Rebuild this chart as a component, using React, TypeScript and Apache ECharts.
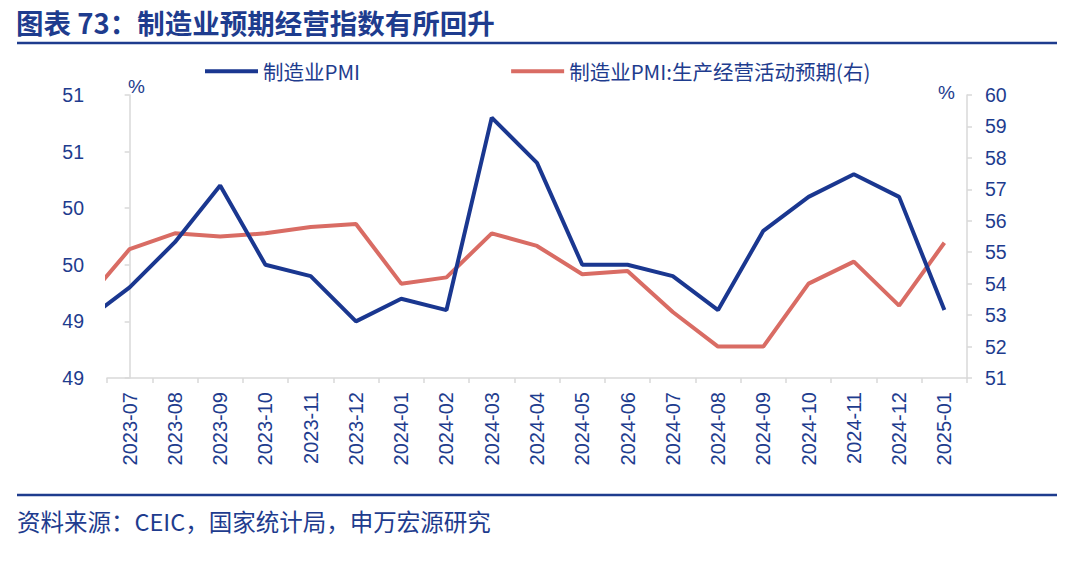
import React, { useEffect, useRef } from "react";
import * as echarts from "echarts";

// Months including the clipped lead-in month (2023-06)
const months = [
  "2023-06", "2023-07", "2023-08", "2023-09", "2023-10", "2023-11", "2023-12",
  "2024-01", "2024-02", "2024-03", "2024-04", "2024-05", "2024-06", "2024-07",
  "2024-08", "2024-09", "2024-10", "2024-11", "2024-12", "2025-01",
];
const categories = months.slice(1);

const pmi = [
  49.0, 49.3, 49.7, 50.2, 49.5, 49.4, 49.0,
  49.2, 49.1, 50.8, 50.4, 49.5, 49.5, 49.4,
  49.1, 49.8, 50.1, 50.3, 50.1, 49.1,
];
const expectation = [
  53.4, 55.1, 55.6, 55.5, 55.6, 55.8, 55.9,
  54.0, 54.2, 55.6, 55.2, 54.3, 54.4, 53.1,
  52.0, 52.0, 54.0, 54.7, 53.3, 55.3,
];

const seriesNames = ["制造业PMI", "制造业PMI:生产经营活动预期(右)"];
const titleText = "图表 73：制造业预期经营指数有所回升";
const sourceText = "资料来源：CEIC，国家统计局，申万宏源研究";

const NAVY = "#1e3c8e";
const BLUE = "#1a3790";
const RED = "#d96c64";
const AXIS_GRAY = "#d9d9d9";
const CJK = "'Noto Sans CJK SC', 'Noto Sans', sans-serif";
const NUM = "'Liberation Sans', Arial, sans-serif";

export default function App() {
  const ref = useRef<HTMLDivElement>(null);

  useEffect(() => {
    if (!ref.current) return;
    const chart = echarts.init(ref.current, undefined, { renderer: "svg" });
    const toPairs = (arr: number[]) => arr.map((v, i) => [i - 1, v]);

    chart.setOption({
      animation: false,
      backgroundColor: "#ffffff",
      grid: { left: 107, right: 113, top: 95, bottom: 190, containLabel: false },
      legend: {
        left: 200,
        top: 56,
        itemWidth: 53,
        itemHeight: 4,
        itemGap: 151,
        icon: "rect",
        textStyle: { color: NAVY, fontSize: 20.5, fontFamily: CJK },
        data: seriesNames,
      },
      xAxis: [
        {
          type: "category",
          data: categories,
          boundaryGap: true,
          axisLine: { show: true, lineStyle: { color: AXIS_GRAY, width: 1.5 } },
          axisTick: { show: true, length: 5, lineStyle: { color: AXIS_GRAY, width: 1.5 } },
          axisLabel: {
            rotate: 90,
            margin: 14,
            color: NAVY,
            fontSize: 20,
            fontFamily: NUM,
            interval: 0,
          },
          splitLine: { show: false },
        },
        {
          type: "value",
          min: -0.5,
          max: 18.5,
          show: false,
          splitLine: { show: false },
        },
      ],
      yAxis: [
        {
          type: "value",
          min: 48.5,
          max: 51,
          interval: 0.5,
          axisLine: { show: true, lineStyle: { color: AXIS_GRAY, width: 1.5 } },
          axisTick: { show: true, length: 5, lineStyle: { color: AXIS_GRAY, width: 1.5 } },
          axisLabel: {
            margin: 23,
            color: NAVY,
            fontSize: 19.5,
            fontFamily: NUM,
            formatter: (v: number) => String(Math.round(v)),
          },
          splitLine: { show: false },
        },
        {
          type: "value",
          min: 51,
          max: 60,
          interval: 1,
          position: "right",
          axisLine: { show: true, lineStyle: { color: AXIS_GRAY, width: 1.5 } },
          axisTick: { show: true, length: 5, lineStyle: { color: AXIS_GRAY, width: 1.5 } },
          axisLabel: {
            margin: 18,
            color: NAVY,
            fontSize: 19.5,
            fontFamily: NUM,
          },
          splitLine: { show: false },
        },
      ],
      series: [
        {
          name: seriesNames[0],
          type: "line",
          xAxisIndex: 1,
          yAxisIndex: 0,
          data: toPairs(pmi),
          symbol: "none",
          clip: true,
          lineStyle: { color: BLUE, width: 4 },
          itemStyle: { color: BLUE },
          z: 3,
        },
        {
          name: seriesNames[1],
          type: "line",
          xAxisIndex: 1,
          yAxisIndex: 1,
          data: toPairs(expectation),
          symbol: "none",
          clip: true,
          lineStyle: { color: RED, width: 4 },
          itemStyle: { color: RED },
          z: 2,
        },
      ],
      graphic: [
        {
          type: "text",
          left: 16,
          top: 8,
          style: {
            text: titleText,
            fill: NAVY,
            font: `bold 27.5px ${CJK}`,
          },
        },
        {
          type: "line",
          shape: { x1: 17, y1: 43, x2: 1057, y2: 43 },
          style: { stroke: NAVY, lineWidth: 2.5 },
        },
        {
          type: "text",
          left: 128,
          top: 77,
          style: { text: "%", fill: NAVY, font: `19px ${NUM}` },
        },
        {
          type: "text",
          left: 938,
          top: 83,
          style: { text: "%", fill: NAVY, font: `19px ${NUM}` },
        },
        {
          type: "line",
          shape: { x1: 17, y1: 495, x2: 1057, y2: 495 },
          style: { stroke: NAVY, lineWidth: 2.5 },
        },
        {
          type: "text",
          left: 17,
          top: 509,
          style: { text: sourceText, fill: NAVY, font: `23.5px ${CJK}` },
        },
      ],
    });

    return () => chart.dispose();
  }, []);

  return (
    <div
      ref={ref}
      style={{ position: "absolute", left: 0, top: 0, width: 1080, height: 568 }}
    />
  );
}
